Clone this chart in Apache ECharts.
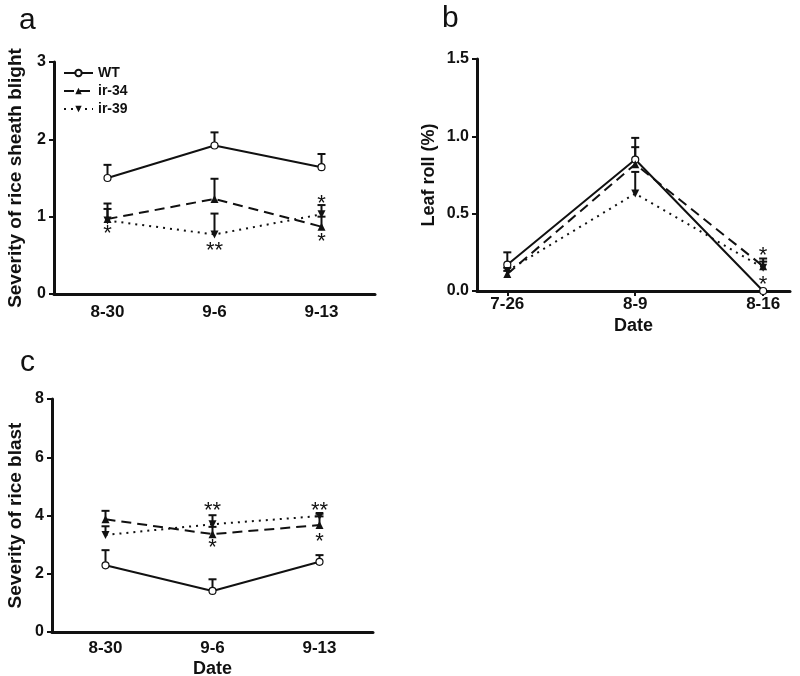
<!DOCTYPE html>
<html>
<head>
<meta charset="utf-8">
<script src="https://cdn.jsdelivr.net/npm/echarts@6/dist/echarts.min.js"></script>
<style>
  html, body { margin: 0; padding: 0; background: #fff; }
  #main { width: 800px; height: 676px; }
</style>
</head>
<body>
<div id="main"></div>
<script>
// panel a: sheath blight
var datesA = ['8-30', '9-6', '9-13'];
var wtA = [1.50, 1.92, 1.64];
var wtAErr = [0.17, 0.17, 0.17];
var ir34A = [0.97, 1.23, 0.87];
var ir34AErr = [0.20, 0.26, 0.13];
var ir39A = [0.95, 0.77, 1.03];
var ir39AErr = [0.15, 0.27, 0.12];
var starsA = [[0, 0.84, '*'], [1, 0.62, '**'], [2, 1.23, '*'], [2, 0.73, '*']];

// panel b: leaf roll
var datesB = ['7-26', '8-9', '8-16'];
var wtB = [0.17, 0.85, 0.0];
var wtBErr = [0.08, 0.14, 0];
var ir34B = [0.11, 0.82, 0.16];
var ir34BErr = [0.02, 0.11, 0.05];
var ir39B = [0.13, 0.63, 0.15];
var ir39BErr = [0.02, 0.14, 0.04];
var starsB = [[2, 0.26, '*'], [2, 0.07, '*']];

// panel c: rice blast
var datesC = ['8-30', '9-6', '9-13'];
var wtC = [2.29, 1.41, 2.41];
var wtCErr = [0.52, 0.40, 0.23];
var ir34C = [3.87, 3.36, 3.67];
var ir34CErr = [0.29, 0.25, 0.30];
var ir39C = [3.33, 3.70, 3.98];
var ir39CErr = [0.30, 0.31, 0.08];
var starsC = [[1, 4.32, '**'], [1, 3.05, '*'], [2, 4.32, '**'], [2, 3.25, '*']];

var chartDom = document.getElementById('main');
var myChart = echarts.init(chartDom);
var option;

var FONT = 'Liberation Sans, Arial, sans-serif';
var INK = '#111';
var STAR_SIZE = 22;

function zip(vals, errs) {
  return vals.map(function (v, i) { return [i, v, errs[i]]; });
}
function pts(vals) {
  return vals.map(function (v, i) { return [i, v]; });
}

function errRender(params, api) {
  var x = api.value(0), y = api.value(1), e = api.value(2);
  var p0 = api.coord([x, y]);
  var p1 = api.coord([x, y + e]);
  return {
    type: 'group',
    children: [
      { type: 'line', shape: { x1: p0[0], y1: p0[1], x2: p1[0], y2: p1[1] }, style: { stroke: INK, lineWidth: 2 } },
      { type: 'line', shape: { x1: p1[0] - 4, y1: p1[1], x2: p1[0] + 4, y2: p1[1] }, style: { stroke: INK, lineWidth: 2 } }
    ]
  };
}

var starText = {
  sa: starsA.map(function (s) { return s[2]; }),
  sb: starsB.map(function (s) { return s[2]; }),
  sc: starsC.map(function (s) { return s[2]; })
};

// the asterisk glyph sits high in its text box, so push it down a bit
function starRender(params, api) {
  var p = api.coord([api.value(0), api.value(1)]);
  return {
    type: 'text',
    style: {
      x: p[0], y: p[1] + STAR_SIZE * 0.22,
      text: starText[params.seriesName][params.dataIndex],
      fill: INK, font: STAR_SIZE + 'px ' + FONT,
      align: 'center', verticalAlign: 'middle'
    }
  };
}

function lineSeries(name, idx, data, kind) {
  var s = {
    name: name, type: 'line', xAxisIndex: idx, yAxisIndex: idx,
    data: pts(data), z: 3, animation: false
  };
  if (kind === 'wt') {
    s.symbol = 'circle'; s.symbolSize = 7;
    s.itemStyle = { color: '#fff', borderColor: INK, borderWidth: 1.2 };
    s.lineStyle = { color: INK, width: 2, type: 'solid' };
  } else if (kind === 'up') {
    s.symbol = 'triangle'; s.symbolSize = 8;
    s.itemStyle = { color: INK };
    s.lineStyle = { color: INK, width: 2, type: [10, 6] };
  } else {
    s.symbol = 'triangle'; s.symbolSize = 8; s.symbolRotate = 180;
    s.itemStyle = { color: INK };
    s.lineStyle = { color: INK, width: 2, type: [2, 5] };
  }
  return s;
}

function errSeries(idx, vals, errs) {
  return {
    type: 'custom', xAxisIndex: idx, yAxisIndex: idx, renderItem: errRender,
    data: zip(vals, errs), z: 2, animation: false, silent: true
  };
}

function starSeries(name, idx, stars) {
  return {
    name: name, type: 'custom', xAxisIndex: idx, yAxisIndex: idx, renderItem: starRender,
    data: stars.map(function (s) { return [s[0], s[1]]; }), z: 4, animation: false, silent: true
  };
}

var axisLineStyle = { color: INK, width: 3 };
var axisTick = { length: 5, lineStyle: { color: INK, width: 2 } };
var xLabel = { color: INK, fontFamily: FONT, fontWeight: 'bold', fontSize: 17 };
var yLabel = { color: INK, fontFamily: FONT, fontWeight: 'bold', fontSize: 16 };
var titleStyle = { color: INK, fontFamily: FONT, fontWeight: 'bold', fontSize: 18 };
var bigTitle = { color: INK, fontFamily: FONT, fontWeight: 'bold', fontSize: 19 };

option = {
  backgroundColor: '#fff',
  textStyle: { fontFamily: FONT },
  legend: {
    data: ['WT', 'ir-34', 'ir-39'],
    orient: 'vertical',
    left: 63, top: 66, padding: 0,
    itemWidth: 29, itemHeight: 8, itemGap: 4,
    textStyle: { color: INK, fontFamily: FONT, fontWeight: 'bold', fontSize: 14 },
    selectedMode: false
  },
  graphic: [
    { type: 'text', left: 19, top: 6, style: { text: 'a', fill: INK, font: '30px ' + FONT } },
    { type: 'text', left: 442, top: 4, style: { text: 'b', fill: INK, font: '30px ' + FONT } },
    { type: 'text', left: 20, top: 348, style: { text: 'c', fill: INK, font: '30px ' + FONT } }
  ],
  grid: [
    { left: 54, top: 62, right: 425, bottom: 382, outerBoundsMode: 'none' },
    { left: 477, top: 59, right: 10, bottom: 385, outerBoundsMode: 'none' },
    { left: 52, top: 399, right: 427, bottom: 44, outerBoundsMode: 'none' }
  ],
  xAxis: [
    {
      gridIndex: 0, type: 'category', data: datesA, boundaryGap: true,
      axisLine: { lineStyle: axisLineStyle }, axisTick: Object.assign({ alignWithLabel: true }, axisTick),
      axisLabel: Object.assign({ margin: 10 }, xLabel), splitLine: { show: false }
    },
    {
      gridIndex: 1, type: 'value', min: -0.237, max: 2.21,
      axisLine: { onZero: false, lineStyle: axisLineStyle },
      axisTick: Object.assign({ customValues: [0, 1, 2] }, axisTick),
      axisLabel: Object.assign({
        margin: 5, customValues: [0, 1, 2],
        formatter: function (v) { return datesB[Math.round(v)]; }
      }, xLabel),
      splitLine: { show: false },
      name: 'Date', nameLocation: 'middle', nameGap: 26, nameTextStyle: titleStyle
    },
    {
      gridIndex: 2, type: 'category', data: datesC, boundaryGap: true,
      axisLine: { lineStyle: axisLineStyle }, axisTick: Object.assign({ alignWithLabel: true }, axisTick),
      axisLabel: Object.assign({ margin: 8 }, xLabel), splitLine: { show: false },
      name: 'Date', nameLocation: 'middle', nameGap: 28, nameTextStyle: titleStyle
    }
  ],
  yAxis: [
    {
      gridIndex: 0, type: 'value', min: 0, max: 3, interval: 1,
      axisLine: { show: true, lineStyle: axisLineStyle }, axisTick: Object.assign({ show: true }, axisTick),
      axisLabel: Object.assign({ margin: 8 }, yLabel), splitLine: { show: false },
      name: 'Severity of rice sheath blight', nameLocation: 'middle', nameGap: 29,
      nameRotate: 90, nameTextStyle: bigTitle
    },
    {
      gridIndex: 1, type: 'value', min: 0, max: 1.5, interval: 0.5,
      axisLine: { show: true, onZero: false, lineStyle: axisLineStyle }, axisTick: Object.assign({ show: true }, axisTick),
      axisLabel: Object.assign({ margin: 8, formatter: function (v) { return v.toFixed(1); } }, yLabel),
      splitLine: { show: false },
      name: 'Leaf roll (%)', nameLocation: 'middle', nameGap: 39,
      nameRotate: 90, nameTextStyle: titleStyle
    },
    {
      gridIndex: 2, type: 'value', min: 0, max: 8, interval: 2,
      axisLine: { show: true, lineStyle: axisLineStyle }, axisTick: Object.assign({ show: true }, axisTick),
      axisLabel: Object.assign({ margin: 8 }, yLabel), splitLine: { show: false },
      name: 'Severity of rice blast', nameLocation: 'middle', nameGap: 27,
      nameRotate: 90, nameTextStyle: bigTitle
    }
  ],
  series: [
    errSeries(0, wtA, wtAErr), errSeries(0, ir34A, ir34AErr), errSeries(0, ir39A, ir39AErr),
    lineSeries('WT', 0, wtA, 'wt'), lineSeries('ir-34', 0, ir34A, 'up'), lineSeries('ir-39', 0, ir39A, 'down'),
    starSeries('sa', 0, starsA),

    errSeries(1, wtB, wtBErr), errSeries(1, ir34B, ir34BErr), errSeries(1, ir39B, ir39BErr),
    lineSeries('WT', 1, wtB, 'wt'), lineSeries('ir-34', 1, ir34B, 'up'), lineSeries('ir-39', 1, ir39B, 'down'),
    starSeries('sb', 1, starsB),

    errSeries(2, wtC, wtCErr), errSeries(2, ir34C, ir34CErr), errSeries(2, ir39C, ir39CErr),
    lineSeries('WT', 2, wtC, 'wt'), lineSeries('ir-34', 2, ir34C, 'up'), lineSeries('ir-39', 2, ir39C, 'down'),
    starSeries('sc', 2, starsC)
  ]
};

option && myChart.setOption(option);
</script>
</body>
</html>
